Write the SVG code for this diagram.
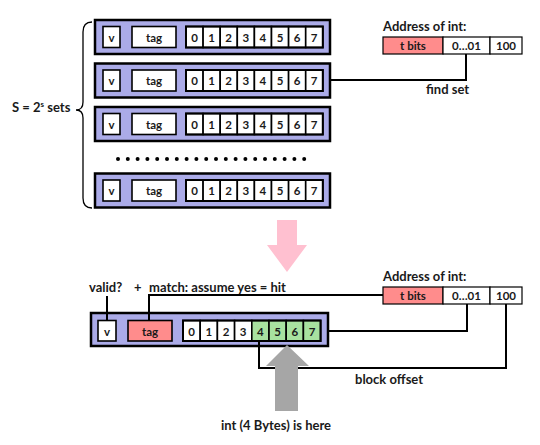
<svg xmlns="http://www.w3.org/2000/svg" width="540" height="445" viewBox="0 0 540 445">
<style>
text{font-family:Lato,"Open Sans","Liberation Sans",sans-serif;font-weight:700;fill:#1a1a1a}
.row{fill:#ABABE8;stroke:#000;stroke-width:2.5}
.cell{fill:#fff;stroke:#000;stroke-width:1.6}
.grp{fill:none;stroke:#000;stroke-width:2}
.pink{fill:#FF8C8C}
.green{fill:#A8E2A0}
.c{font-size:11.5px;text-anchor:middle;dominant-baseline:central}
.lbl{font-size:13px}
.wire{fill:none;stroke:#000;stroke-width:2}
.abox{stroke:#000;stroke-width:1.2}
</style>
<defs>
<g id="rowT">
<rect class="row" x="95" y="0" width="235" height="34"/>
<rect class="cell" x="103" y="6.5" width="17" height="21"/>
<text class="c" x="111.5" y="17">v</text>
<rect class="cell" x="132" y="6.5" width="44" height="21"/>
<text class="c" x="154" y="17">tag</text>
<rect class="cell" x="186" y="6.5" width="17.1" height="21"/>
<rect class="cell" x="203.1" y="6.5" width="17.1" height="21"/>
<rect class="cell" x="220.2" y="6.5" width="17.1" height="21"/>
<rect class="cell" x="237.3" y="6.5" width="17.1" height="21"/>
<rect class="cell" x="254.4" y="6.5" width="17.1" height="21"/>
<rect class="cell" x="271.5" y="6.5" width="17.1" height="21"/>
<rect class="cell" x="288.6" y="6.5" width="17.1" height="21"/>
<rect class="cell" x="305.7" y="6.5" width="17.1" height="21"/>
<rect class="grp" x="186" y="6.5" width="136.8" height="21"/>
<text class="c" x="194.5" y="17">0</text>
<text class="c" x="211.6" y="17">1</text>
<text class="c" x="228.7" y="17">2</text>
<text class="c" x="245.8" y="17">3</text>
<text class="c" x="262.9" y="17">4</text>
<text class="c" x="280" y="17">5</text>
<text class="c" x="297.1" y="17">6</text>
<text class="c" x="314.2" y="17">7</text>
</g>
</defs>

<g id="set0"><use href="#rowT" y="20"/></g>
<g id="set1"><use href="#rowT" y="63.5"/></g>
<g id="set2"><use href="#rowT" y="107"/></g>
<g id="dots" fill="#000">
<circle cx="118" cy="159" r="2"/><circle cx="127.8" cy="159" r="2"/><circle cx="137.6" cy="159" r="2"/><circle cx="147.4" cy="159" r="2"/><circle cx="157.2" cy="159" r="2"/><circle cx="167" cy="159" r="2"/><circle cx="176.8" cy="159" r="2"/><circle cx="186.6" cy="159" r="2"/><circle cx="196.4" cy="159" r="2"/><circle cx="206.2" cy="159" r="2"/><circle cx="216" cy="159" r="2"/><circle cx="225.8" cy="159" r="2"/><circle cx="235.6" cy="159" r="2"/><circle cx="245.4" cy="159" r="2"/><circle cx="255.2" cy="159" r="2"/><circle cx="265" cy="159" r="2"/><circle cx="274.8" cy="159" r="2"/><circle cx="284.6" cy="159" r="2"/><circle cx="294.4" cy="159" r="2"/><circle cx="304.2" cy="159" r="2"/>
</g>
<g id="setN"><use href="#rowT" y="173.5"/></g>

<g id="brace">
<path d="M92,22 Q83,22 83,32 L83,102 Q83,110 76,110 Q83,110 83,118 L83,198 Q83,208 92,208" fill="none" stroke="#000" stroke-width="1.3"/>
<text class="lbl" x="12" y="112">S = 2<tspan font-size="8" dy="-5">s</tspan><tspan dy="5"> sets</tspan></text>
</g>

<g id="addr1">
<text class="lbl" x="383" y="31">Address of int:</text>
<rect class="abox pink" x="383" y="37" width="60" height="17"/>
<rect class="abox" fill="#fff" x="443" y="37" width="47" height="17"/>
<rect class="abox" fill="#fff" x="490" y="37" width="32" height="17"/>
<text class="c" x="413" y="45.5">t bits</text>
<text class="c" x="466.5" y="45.5">0…01</text>
<text class="c" x="506" y="45.5">100</text>
</g>

<g id="pinkArrow">
<polygon points="277,220 297,220 297,245 307,245 287,272 267,245 277,245" fill="#FFC0D0"/>
</g>

<g id="line">
<rect class="row" x="91" y="313" width="237" height="33"/>
<rect class="cell" x="98" y="320.5" width="18" height="20.5"/>
<text class="c" x="107" y="331">v</text>
<rect class="cell pink" x="128" y="320.5" width="44" height="20.5"/>
<text class="c" x="150" y="331">tag</text>
<rect class="cell" x="183" y="320.5" width="17.2" height="20.5"/>
<rect class="cell" x="200.2" y="320.5" width="17.2" height="20.5"/>
<rect class="cell" x="217.4" y="320.5" width="17.2" height="20.5"/>
<rect class="cell" x="234.6" y="320.5" width="17.2" height="20.5"/>
<rect class="cell green" x="251.8" y="320.5" width="17.2" height="20.5"/>
<rect class="cell green" x="269" y="320.5" width="17.2" height="20.5"/>
<rect class="cell green" x="286.2" y="320.5" width="17.2" height="20.5"/>
<rect class="cell green" x="303.4" y="320.5" width="17.2" height="20.5"/>
<rect class="grp" x="183" y="320.5" width="137.6" height="20.5"/>
<text class="c" x="191.6" y="331">0</text>
<text class="c" x="208.8" y="331">1</text>
<text class="c" x="226" y="331">2</text>
<text class="c" x="243.2" y="331">3</text>
<text class="c" x="260.4" y="331">4</text>
<text class="c" x="277.6" y="331">5</text>
<text class="c" x="294.8" y="331">6</text>
<text class="c" x="312" y="331">7</text>
</g>

<g id="addr2">
<text class="lbl" x="383" y="281">Address of int:</text>
<rect class="abox pink" x="383" y="287" width="60" height="17"/>
<rect class="abox" fill="#fff" x="443" y="287" width="47" height="17"/>
<rect class="abox" fill="#fff" x="490" y="287" width="32" height="17"/>
<text class="c" x="413" y="295.5">t bits</text>
<text class="c" x="466.5" y="295.5">0…01</text>
<text class="c" x="506" y="295.5">100</text>
</g>

<g id="connectors">
<path class="wire" d="M330,80 L466,80 L466,54"/>
<path class="wire" d="M107,296 L107,320.5"/>
<path class="wire" d="M149,320.5 L149,295 L383,295"/>
<path class="wire" d="M328,331 L467,331 L467,304"/>
<path class="wire" d="M506,304 L506,368 L259,368 L259,341"/>
</g>

<g id="labels">
<text class="lbl" x="426" y="94">find set</text>
<text class="lbl" x="89" y="292">valid?</text>
<text class="lbl" x="134" y="292">+</text>
<text class="lbl" x="149" y="292">match: assume yes = hit</text>
<text class="lbl" x="355" y="384">block offset</text>
<text class="lbl" x="221" y="430">int (4 Bytes) is here</text>
</g>

<g id="grayArrow">
<polygon points="287,345 309,366 298,366 298,411 275,411 275,366 266,366" fill="#A6A6A6"/>
</g>
</svg>
